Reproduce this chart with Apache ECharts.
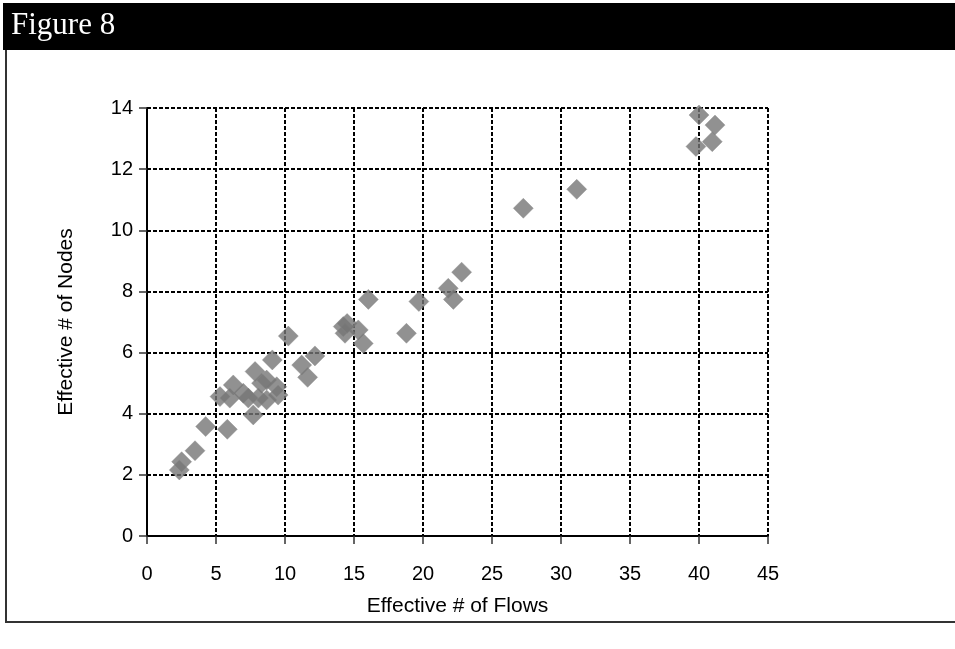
<!DOCTYPE html>
<html>
<head>
<meta charset="utf-8">
<script src="https://cdn.jsdelivr.net/npm/echarts@6/dist/echarts.min.js"></script>
<style>
html,body{margin:0;padding:0;background:#fff;}
#chart{width:955px;height:649px;}
</style>
</head>
<body>
<div id="chart"></div>
<script>
// Effective # of Flows (x) and Effective # of Nodes (y)
const flows = [
  40.0, 41.16, 39.78, 40.96, 31.14, 27.27,
  22.8, 21.83, 22.2, 19.7, 18.8,
  16.04, 14.22, 15.31, 14.35, 14.5, 15.67,
  10.24, 12.17, 11.21, 11.64, 9.08,
  5.29, 6.25, 6.0, 6.98, 7.83, 8.3, 8.07, 8.67, 9.4, 9.5, 8.67, 7.34,
  7.7, 5.82, 4.25, 3.48, 2.51, 2.34
];
const nodes = [
  13.77, 13.44, 12.74, 12.9, 11.34, 10.72,
  8.63, 8.1, 7.74, 7.67, 6.63,
  7.74, 6.85, 6.74, 6.63, 6.95, 6.3,
  6.54, 5.89, 5.59, 5.19, 5.76,
  4.56, 4.94, 4.51, 4.67, 5.38, 5.0, 4.51, 4.45, 4.88, 4.61, 5.1, 4.51,
  3.96, 3.49, 3.58, 2.79, 2.43, 2.16
];
const xTicks = {min: 0, max: 45, step: 5};
const yTicks = {min: 0, max: 14, step: 2};
const titleText = 'Figure 8';
const xName = 'Effective # of Flows';
const yName = 'Effective # of Nodes';

const points = flows.map((f, i) => [f, nodes[i]]);
const chart = echarts.init(document.getElementById('chart'), null, {renderer: 'canvas'});
const font = 'Liberation Sans, Arial, sans-serif';
const gridLine = {show: true, lineStyle: {color: '#000', width: 2, type: [4, 2]}};
chart.setOption({
  animation: false,
  backgroundColor: '#fff',
  grid: {left: 147, right: 187, top: 108, bottom: 113},
  xAxis: {
    type: 'value', min: xTicks.min, max: xTicks.max, interval: xTicks.step,
    name: xName, nameLocation: 'middle', nameGap: 60,
    nameTextStyle: {fontFamily: font, fontSize: 21, color: '#000'},
    axisLine: {show: true, onZero: false, lineStyle: {color: '#000', width: 2}},
    axisTick: {show: true, length: 8, lineStyle: {color: '#333', width: 1.5}},
    axisLabel: {fontFamily: font, fontSize: 20, color: '#000', margin: 28},
    splitLine: gridLine
  },
  yAxis: {
    type: 'value', min: yTicks.min, max: yTicks.max, interval: yTicks.step,
    name: yName, nameLocation: 'middle', nameGap: 70,
    nameTextStyle: {fontFamily: font, fontSize: 21, color: '#000'},
    axisLine: {show: true, onZero: false, lineStyle: {color: '#000', width: 2}},
    axisTick: {show: true, length: 8, lineStyle: {color: '#333', width: 1.5}},
    axisLabel: {fontFamily: font, fontSize: 20, color: '#000', margin: 14},
    splitLine: gridLine
  },
  graphic: [
    {type: 'rect', left: 3, top: 3, shape: {width: 952, height: 47}, style: {fill: '#000'}, silent: true},
    {type: 'text', left: 11, top: 10, style: {text: titleText, fill: '#fff', font: '31px "Liberation Serif", "Times New Roman", serif'}, silent: true},
    {type: 'line', shape: {x1: 6, y1: 50, x2: 6, y2: 623}, style: {stroke: '#333', lineWidth: 2}, silent: true},
    {type: 'line', shape: {x1: 5, y1: 622, x2: 955, y2: 622}, style: {stroke: '#333', lineWidth: 2}, silent: true}
  ],
  series: [{
    type: 'scatter',
    data: points,
    symbol: 'diamond',
    symbolSize: 20,
    itemStyle: {color: '#767676', borderColor: '#8a8a8a', borderWidth: 0.5}
  }]
});
</script>
</body>
</html>
